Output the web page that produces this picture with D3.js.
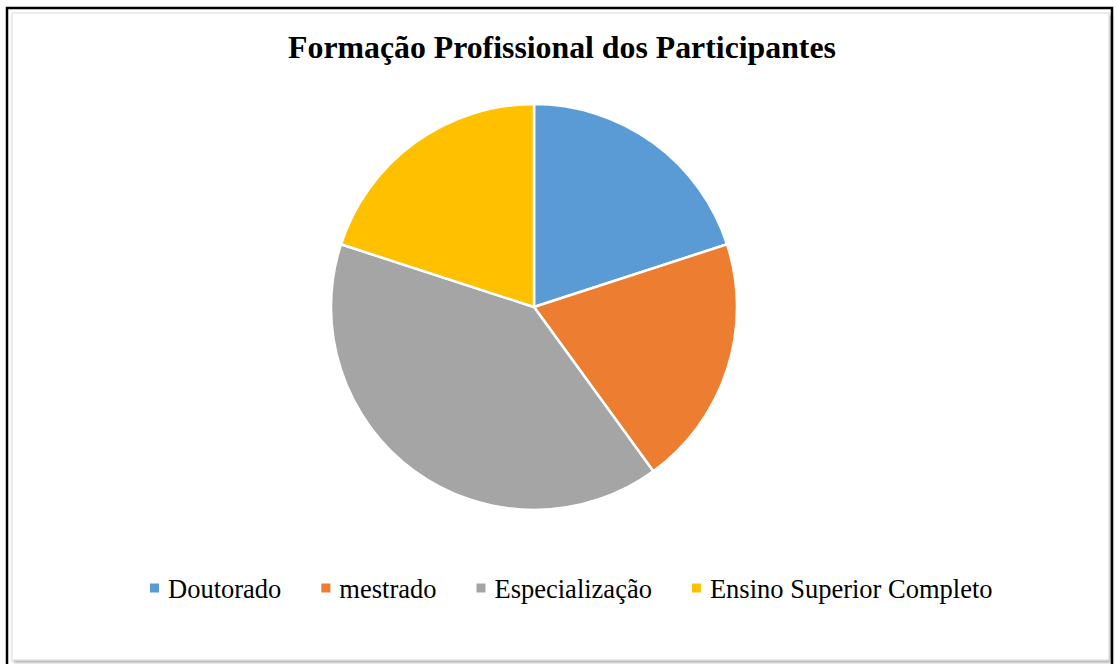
<!DOCTYPE html>
<html><head><meta charset="utf-8">
<script src="https://cdn.jsdelivr.net/npm/d3@7"></script>
<style>html,body{margin:0;padding:0;background:#fff;}svg{display:block;}</style>
</head><body>
<svg id="chart" width="1117" height="664"></svg>
<script>
const categories = ["Doutorado", "mestrado", "Especialização", "Ensino Superior Completo"];
const values = [20, 20, 40, 20];
const colors = ["#5B9BD5", "#ED7D31", "#A5A5A5", "#FFC000"];
const title = "Formação Profissional dos Participantes";

const svg = d3.select("#chart");
const W = 1117, H = 664;

// frame
const defs = svg.append("defs");
const f = defs.append("filter").attr("id","sh").attr("x","-5%").attr("y","-5%").attr("width","110%").attr("height","110%");
f.append("feDropShadow").attr("dx",2).attr("dy",2).attr("stdDeviation",1.5).attr("flood-color","#000").attr("flood-opacity",0.35);

svg.append("rect").attr("x",7).attr("y",8).attr("width",1105).attr("height",662)
  .attr("fill","#fff").attr("stroke","#000").attr("stroke-width",2.5);
svg.append("rect").attr("x",12).attr("y",13).attr("width",1097).attr("height",647)
  .attr("fill","#fff").attr("stroke","#d9d9d9").attr("stroke-width",1).attr("filter","url(#sh)");

svg.append("text").attr("x",562).attr("y",58).attr("text-anchor","middle")
  .attr("font-family","'Liberation Serif','Times New Roman',serif").attr("font-weight","bold")
  .attr("font-size",31.8).attr("fill","#000").text(title);

const cx = 534, cy = 307, r = 203;
const pie = d3.pie().sort(null).value(d => d)(values);
const arc = d3.arc().innerRadius(0).outerRadius(r);
const color = d3.scaleOrdinal().domain(categories).range(colors);
svg.append("g").attr("transform",`translate(${cx},${cy})`)
  .selectAll("path").data(pie).join("path")
  .attr("d", arc).attr("fill",(d,i)=>color(categories[i]))
  .attr("stroke","#fff").attr("stroke-width",2.5).attr("stroke-linejoin","round");

// legend
const lg = svg.append("g");
const fs = 26.5, sq = 9, gapSqText = 9, gapItems = 40;
const items = lg.selectAll("g").data(categories).join("g");
items.append("rect").attr("width",sq).attr("height",sq).attr("y",-sq/2 - 1).attr("fill",d=>color(d));
items.append("text").attr("x",sq+gapSqText).attr("y",0).attr("dy","0.35em")
  .attr("font-family","'Liberation Serif','Times New Roman',serif").attr("font-size",fs).attr("fill","#000")
  .text(d=>d);
let x = 150; const widths = [];
items.each(function(){ const w = d3.select(this).select("text").node().getComputedTextLength(); widths.push(sq+gapSqText+w); });
items.attr("transform",(d,i)=>{ const t = `translate(${x},589)`; x += widths[i]+gapItems; return t; });
</script>
</body></html>
